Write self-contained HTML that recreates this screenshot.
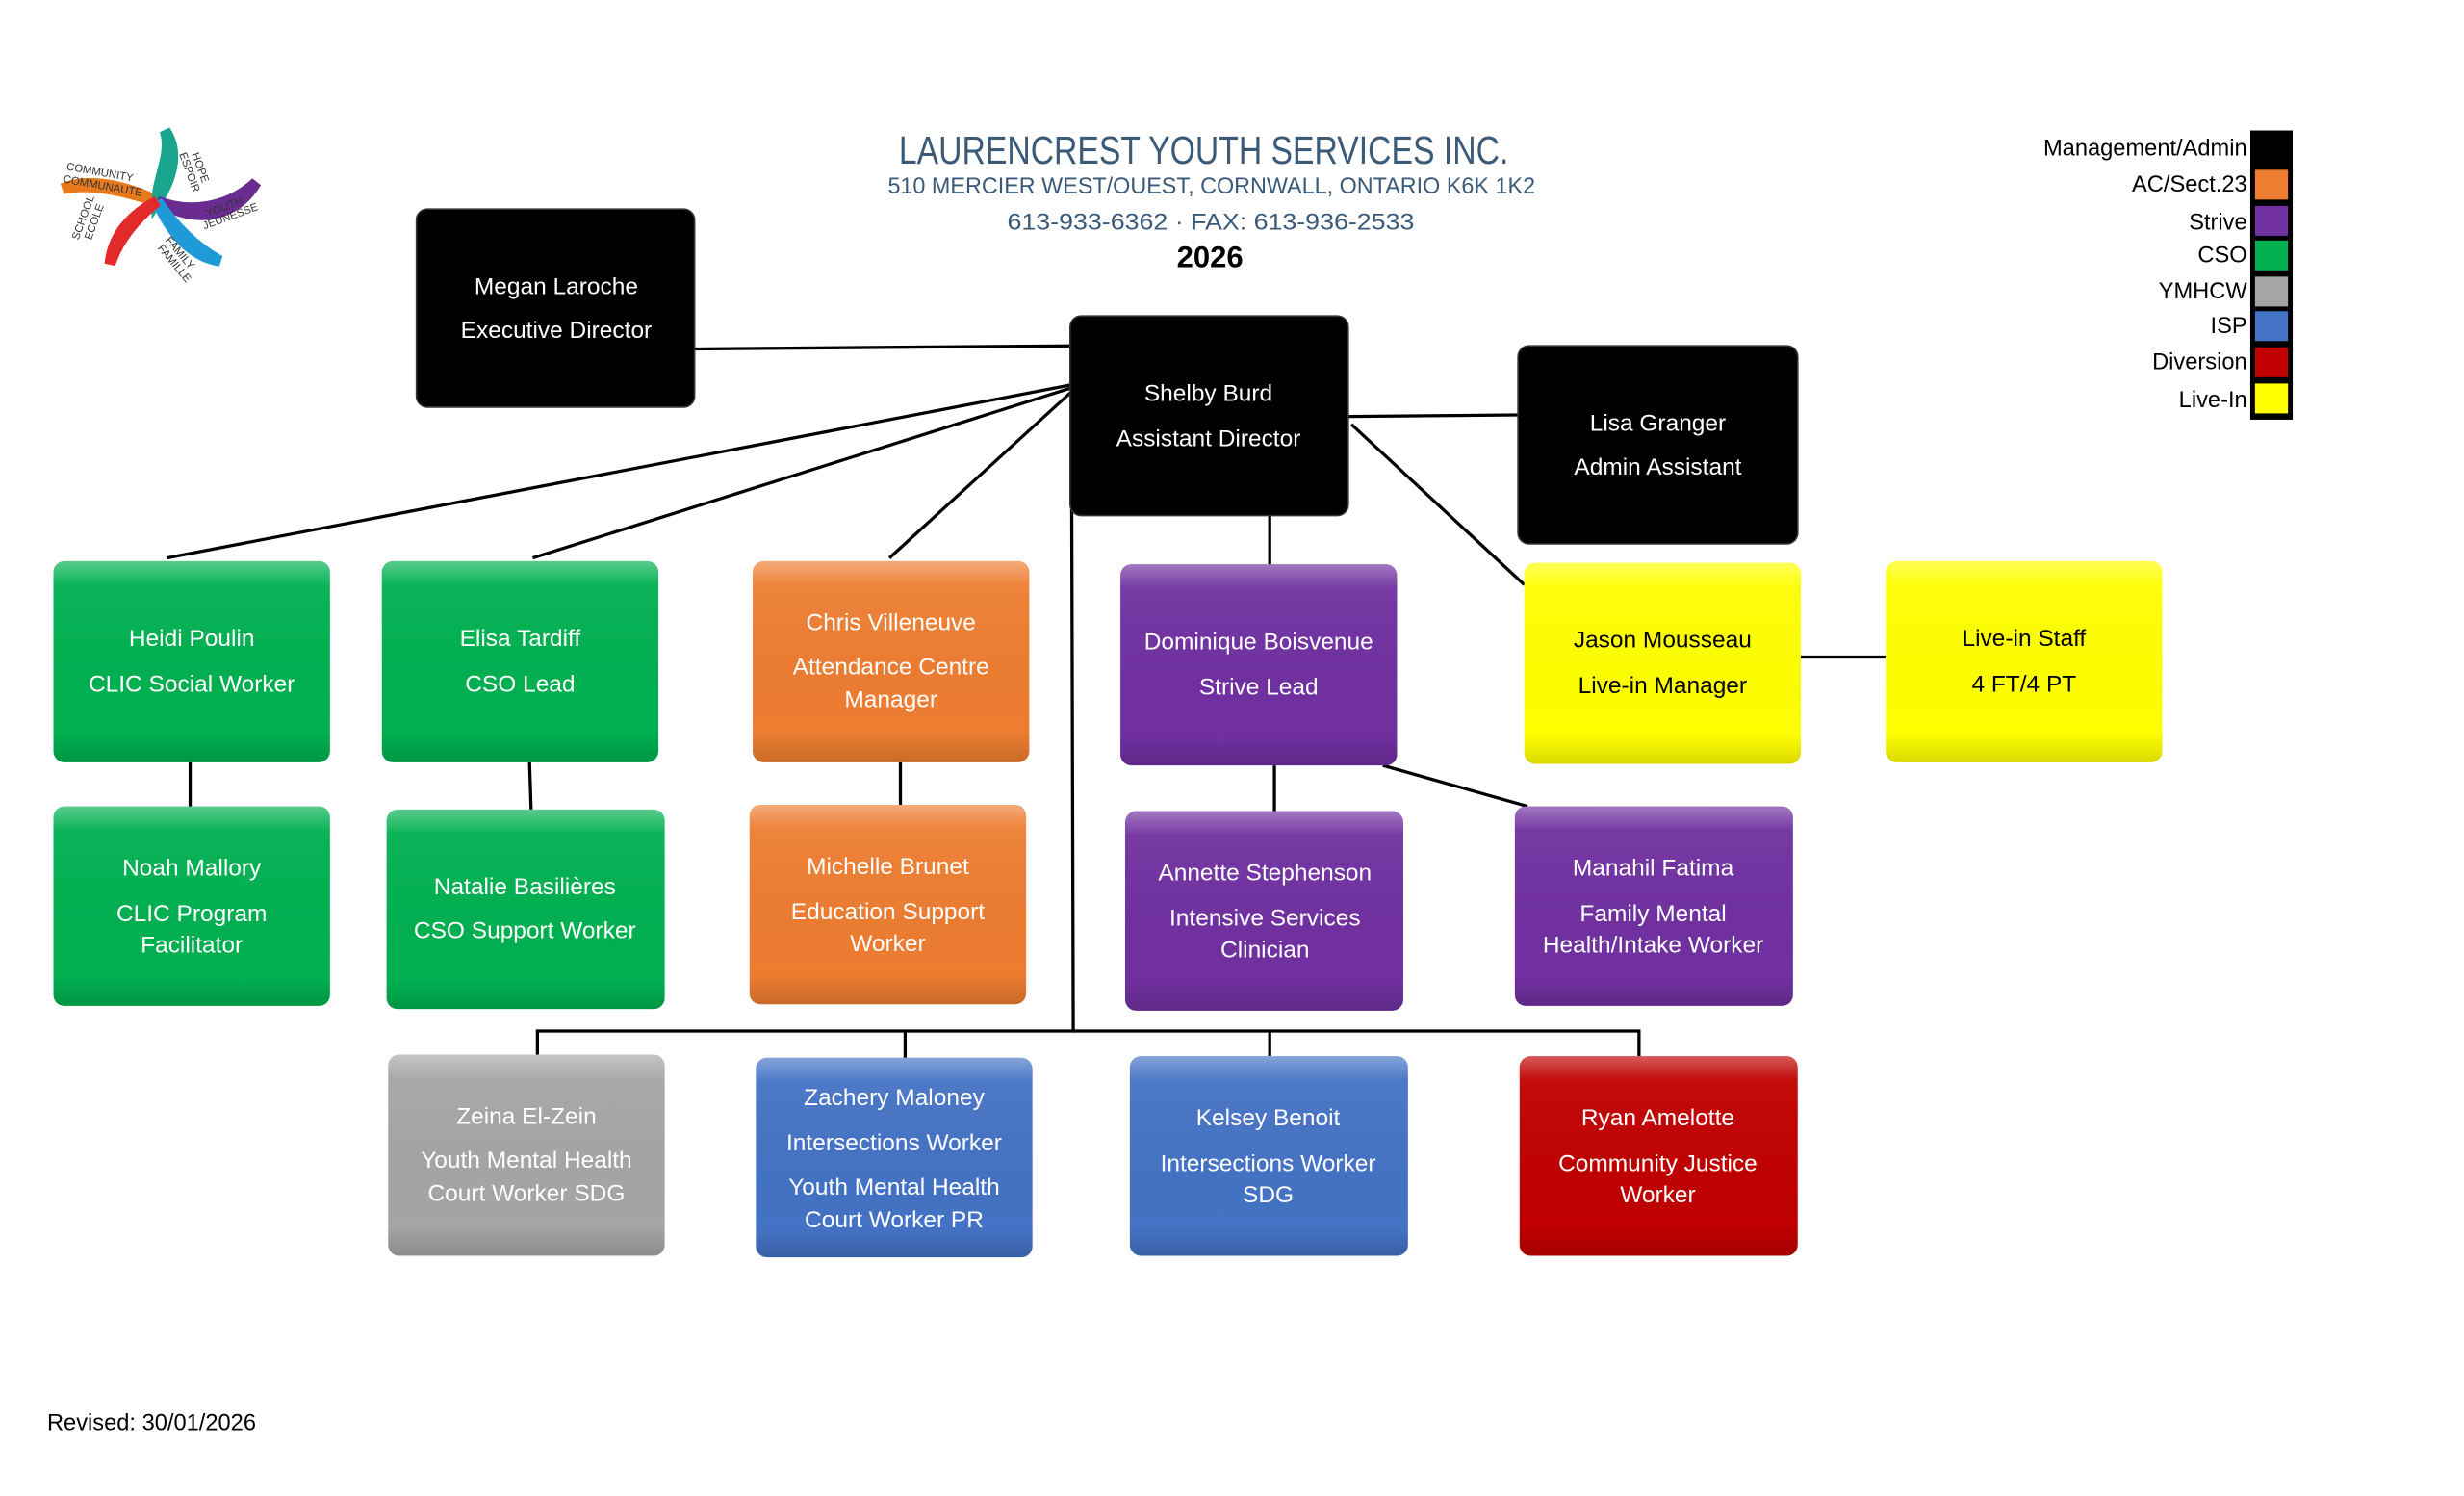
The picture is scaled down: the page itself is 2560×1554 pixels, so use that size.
<!DOCTYPE html>
<html><head><meta charset="utf-8"><style>
html,body{margin:0;padding:0;background:#fff;}
svg{display:block;}
text{font-family:"Liberation Sans",sans-serif;}
.t{fill:#fff;font-size:15px;text-anchor:middle;}
.k{fill:#000;}
.l{stroke:#000;stroke-width:2;fill:none;}
</style></head><body>
<svg width="2560" height="1554" viewBox="0 0 1568 951.8" xmlns="http://www.w3.org/2000/svg">
<defs>
<linearGradient id="gl" x1="0" y1="0" x2="0" y2="1">
<stop offset="0" stop-color="#fff" stop-opacity="0.35"/>
<stop offset="0.12" stop-color="#fff" stop-opacity="0.05"/>
<stop offset="0.85" stop-color="#000" stop-opacity="0"/>
<stop offset="1" stop-color="#000" stop-opacity="0.15"/>
</linearGradient>
</defs>
<rect width="1568" height="952" fill="#fff"/>

<!-- logo -->
<g transform="translate(100,128)">
<path d="M0,0 C-20,-10 -45,-15 -60,-8 C-40,-12 -20,-6 0,0Z" fill="#e87a1e" stroke="#e87a1e" stroke-width="7"/>
<path d="M0,0 C0,-15 10,-30 5,-45 C15,-30 8,-12 0,0Z" fill="#1aa58e" stroke="#1aa58e" stroke-width="7"/>
<path d="M0,0 C20,8 45,5 63,-12 C50,10 25,15 0,0Z" fill="#6a2c91" stroke="#6a2c91" stroke-width="7"/>
<path d="M0,0 C10,15 25,30 40,38 C20,35 8,18 0,0Z" fill="#1e9ad6" stroke="#1e9ad6" stroke-width="7"/>
<path d="M0,0 C-15,12 -25,25 -30,40 C-28,20 -15,8 0,0Z" fill="#e22a2a" stroke="#e22a2a" stroke-width="7"/>
<text x="-58" y="-20" font-size="7" fill="#333" transform="rotate(10 -58 -20)">COMMUNITY</text>
<text x="-60" y="-12" font-size="7" fill="#333" transform="rotate(10 -60 -12)">COMMUNAUTE</text>
<text x="22" y="-30" font-size="7" fill="#333" transform="rotate(70 22 -30)">HOPE</text>
<text x="14" y="-30" font-size="7" fill="#333" transform="rotate(70 14 -30)">ESPOIR</text>
<text x="32" y="10" font-size="7" fill="#333" transform="rotate(-20 32 10)">YOUTH</text>
<text x="30" y="18" font-size="7" fill="#333" transform="rotate(-20 30 18)">JEUNESSE</text>
<text x="-50" y="25" font-size="7" fill="#333" transform="rotate(-70 -50 25)">SCHOOL</text>
<text x="-42" y="25" font-size="7" fill="#333" transform="rotate(-70 -42 25)">ECOLE</text>
<text x="5" y="25" font-size="7" fill="#333" transform="rotate(50 5 25)">FAMILY</text>
<text x="0" y="30" font-size="7" fill="#333" transform="rotate(50 0 30)">FAMILLE</text>
</g>

<!-- header -->
<text x="572" y="104" font-size="25" fill="#3b5a78" textLength="388" lengthAdjust="spacingAndGlyphs">LAURENCREST YOUTH SERVICES INC.</text>
<text x="565" y="123" font-size="15" fill="#3b5a78" textLength="412" lengthAdjust="spacingAndGlyphs">510 MERCIER WEST/OUEST, CORNWALL, ONTARIO K6K 1K2</text>
<text x="641" y="146" font-size="15" fill="#3b5a78" textLength="259" lengthAdjust="spacingAndGlyphs">613-933-6362 · FAX: 613-936-2533</text>
<text x="770" y="170" font-size="19" font-weight="bold" fill="#000" text-anchor="middle">2026</text>

<!-- legend -->
<rect x="1432" y="83" width="27" height="184" fill="#000"/>
<rect x="1435" y="108" width="21" height="19" fill="#ed7d31"/>
<rect x="1435" y="131" width="21" height="19" fill="#7030a0"/>
<rect x="1435" y="153" width="21" height="19" fill="#00b050"/>
<rect x="1435" y="176" width="21" height="19" fill="#a5a5a5"/>
<rect x="1435" y="198" width="21" height="19" fill="#4472c4"/>
<rect x="1435" y="221" width="21" height="19" fill="#c00000"/>
<rect x="1435" y="244" width="21" height="19" fill="#ffff00"/>
<g font-size="14.5" fill="#000" text-anchor="end">
<text x="1430" y="99">Management/Admin</text>
<text x="1430" y="122">AC/Sect.23</text>
<text x="1430" y="146">Strive</text>
<text x="1430" y="167">CSO</text>
<text x="1430" y="190">YMHCW</text>
<text x="1430" y="212">ISP</text>
<text x="1430" y="235">Diversion</text>
<text x="1430" y="259">Live-In</text>
</g>

<text x="30" y="910" font-size="14.5" fill="#000">Revised: 30/01/2026</text>

<!-- connectors -->
<g class="l">
<line x1="442" y1="222" x2="681" y2="220"/>
<line x1="681" y1="245" x2="106" y2="355"/>
<line x1="681" y1="247" x2="339" y2="355"/>
<line x1="681" y1="250" x2="566" y2="355"/>
<line x1="682" y1="316" x2="683" y2="657"/>
<line x1="341" y1="656" x2="1044" y2="656"/>
<line x1="342" y1="656" x2="342" y2="671"/>
<line x1="576" y1="656" x2="576" y2="673"/>
<line x1="808" y1="656" x2="808" y2="672"/>
<line x1="1043" y1="656" x2="1043" y2="672"/>
<line x1="808" y1="328" x2="808" y2="359"/>
<line x1="858" y1="265" x2="966" y2="264"/>
<line x1="860" y1="270" x2="970" y2="372"/>
<line x1="1146" y1="418" x2="1200" y2="418"/>
<line x1="121" y1="485" x2="121" y2="513"/>
<line x1="337" y1="485" x2="338" y2="515"/>
<line x1="573" y1="485" x2="573" y2="512"/>
<line x1="811" y1="487" x2="811" y2="516"/>
<line x1="880" y1="487" x2="972" y2="513"/>
</g>

<!-- boxes -->
<g>
<rect x="265" y="133" width="177" height="126" rx="7" fill="#000" stroke="#333"/>
<rect x="681" y="201" width="177" height="127" rx="7" fill="#000" stroke="#333"/>
<rect x="966" y="220" width="178" height="126" rx="7" fill="#000" stroke="#333"/>
<rect x="34" y="357" width="176" height="128" rx="7" fill="#00b050"/>
<rect x="243" y="357" width="176" height="128" rx="7" fill="#00b050"/>
<rect x="479" y="357" width="176" height="128" rx="7" fill="#ed7d31"/>
<rect x="713" y="359" width="176" height="128" rx="7" fill="#7030a0"/>
<rect x="970" y="358" width="176" height="128" rx="7" fill="#ffff00"/>
<rect x="1200" y="357" width="176" height="128" rx="7" fill="#ffff00"/>
<rect x="34" y="513" width="176" height="127" rx="7" fill="#00b050"/>
<rect x="246" y="515" width="177" height="127" rx="7" fill="#00b050"/>
<rect x="477" y="512" width="176" height="127" rx="7" fill="#ed7d31"/>
<rect x="716" y="516" width="177" height="127" rx="7" fill="#7030a0"/>
<rect x="964" y="513" width="177" height="127" rx="7" fill="#7030a0"/>
<rect x="247" y="671" width="176" height="128" rx="7" fill="#a5a5a5"/>
<rect x="481" y="673" width="176" height="127" rx="7" fill="#4472c4"/>
<rect x="719" y="672" width="177" height="127" rx="7" fill="#4472c4"/>
<rect x="967" y="672" width="177" height="127" rx="7" fill="#c00000"/>
</g>
<g fill="url(#gl)">
<rect x="34" y="357" width="176" height="128" rx="7"/>
<rect x="243" y="357" width="176" height="128" rx="7"/>
<rect x="479" y="357" width="176" height="128" rx="7"/>
<rect x="713" y="359" width="176" height="128" rx="7"/>
<rect x="970" y="358" width="176" height="128" rx="7"/>
<rect x="1200" y="357" width="176" height="128" rx="7"/>
<rect x="34" y="513" width="176" height="127" rx="7"/>
<rect x="246" y="515" width="177" height="127" rx="7"/>
<rect x="477" y="512" width="176" height="127" rx="7"/>
<rect x="716" y="516" width="177" height="127" rx="7"/>
<rect x="964" y="513" width="177" height="127" rx="7"/>
<rect x="247" y="671" width="176" height="128" rx="7"/>
<rect x="481" y="673" width="176" height="127" rx="7"/>
<rect x="719" y="672" width="177" height="127" rx="7"/>
<rect x="967" y="672" width="177" height="127" rx="7"/>
</g>

<!-- text -->
<g class="t">
<text x="354" y="187">Megan Laroche</text><text x="354" y="215">Executive Director</text>
<text x="769" y="255">Shelby Burd</text><text x="769" y="284">Assistant Director</text>
<text x="1055" y="274">Lisa Granger</text><text x="1055" y="302">Admin Assistant</text>
<text x="122" y="411">Heidi Poulin</text><text x="122" y="440">CLIC Social Worker</text>
<text x="331" y="411">Elisa Tardiff</text><text x="331" y="440">CSO Lead</text>
<text x="567" y="401">Chris Villeneuve</text><text x="567" y="429">Attendance Centre</text><text x="567" y="450">Manager</text>
<text x="801" y="413">Dominique Boisvenue</text><text x="801" y="442">Strive Lead</text>
<text x="1058" y="412" class="k">Jason Mousseau</text><text x="1058" y="441" class="k">Live-in Manager</text>
<text x="1288" y="411" class="k">Live-in Staff</text><text x="1288" y="440" class="k">4 FT/4 PT</text>
<text x="122" y="557">Noah Mallory</text><text x="122" y="586">CLIC Program</text><text x="122" y="606">Facilitator</text>
<text x="334" y="569">Natalie Basilières</text><text x="334" y="597">CSO Support Worker</text>
<text x="565" y="556">Michelle Brunet</text><text x="565" y="585">Education Support</text><text x="565" y="605">Worker</text>
<text x="805" y="560">Annette Stephenson</text><text x="805" y="589">Intensive Services</text><text x="805" y="609">Clinician</text>
<text x="1052" y="557">Manahil Fatima</text><text x="1052" y="586">Family Mental</text><text x="1052" y="606">Health/Intake Worker</text>
<text x="335" y="715">Zeina El-Zein</text><text x="335" y="743">Youth Mental Health</text><text x="335" y="764">Court Worker SDG</text>
<text x="569" y="703">Zachery Maloney</text><text x="569" y="732">Intersections Worker</text><text x="569" y="760">Youth Mental Health</text><text x="569" y="781">Court Worker PR</text>
<text x="807" y="716">Kelsey Benoit</text><text x="807" y="745">Intersections Worker</text><text x="807" y="765">SDG</text>
<text x="1055" y="716">Ryan Amelotte</text><text x="1055" y="745">Community Justice</text><text x="1055" y="765">Worker</text>
</g>
</svg>
</body></html>
